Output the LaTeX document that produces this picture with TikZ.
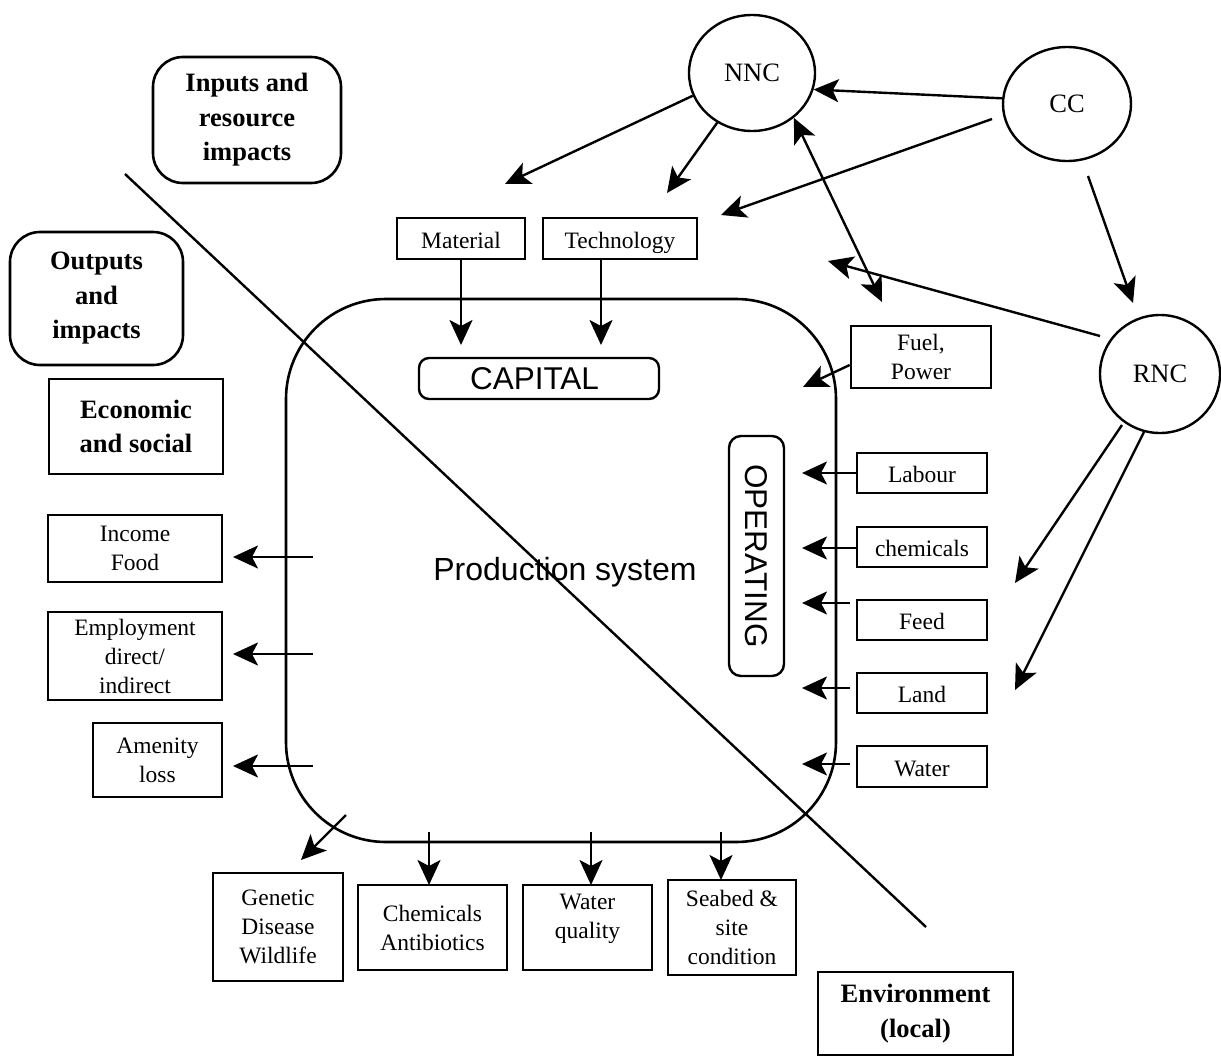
\documentclass[tikz,border=0pt]{standalone}
\usepackage{fontspec}
\setmainfont{Liberation Serif}
\setsansfont{Liberation Sans}
\usetikzlibrary{arrows.meta,shapes.geometric}
\begin{document}
\begin{tikzpicture}[x=1pt,y=-1pt,
  box/.style={draw, line width=2.6pt, inner sep=0pt, align=center, font=\fontsize{23.5}{29}\selectfont},
  one/.style={text height=20pt, text depth=0.4pt},
  bbox/.style={draw, line width=2.6pt, inner sep=0pt, align=center, font=\fontsize{26.5}{34.5}\selectfont\bfseries},
  circ/.style={draw, ellipse, line width=2.4pt, inner sep=0pt, font=\fontsize{26.5}{30}\selectfont},
  sfont/.style={font=\sffamily\fontsize{31.5}{36}\selectfont},
  ln/.style={line width=2.4pt},
  arr/.style={line width=2.4pt, -{Stealth[length=25pt,width=23pt,inset=6pt]}},
  darr/.style={line width=2.4pt, {Stealth[length=25pt,width=23pt,inset=6pt]}-{Stealth[length=25pt,width=23pt,inset=6pt]}}
]
\useasboundingbox (0,0) rectangle (1221,1057);

% circles
\node[circ, minimum width=126pt, minimum height=116pt] (nnc) at (752,73) {NNC};
\node[circ, minimum width=128pt, minimum height=114pt] (cc) at (1067,104) {CC};
\node[circ, minimum width=120pt, minimum height=118pt] (rnc) at (1160,374) {RNC};

% headings
\node[bbox, rounded corners=30pt, minimum width=188pt, minimum height=126pt] (inp) at (247,120) {Inputs and\\resource\\impacts};
\node[bbox, rounded corners=30pt, minimum width=173pt, minimum height=133pt] (outp) at (96.5,298.5) {Outputs\\and\\impacts};
\node[bbox, minimum width=174pt, minimum height=95pt] (econ) at (136,426.5) {Economic\\and social};
\node[bbox, minimum width=195pt, minimum height=83pt] (env) at (915.5,1013.5) {Environment\\(local)};

% production system
\node[draw, line width=2.6pt, rounded corners=100pt, minimum width=550pt, minimum height=543pt] (prod) at (561,570.5) {};
\node[inner sep=0pt, font=\sffamily\fontsize{32}{36}\selectfont] (prodt) at ([xshift=4pt,yshift=-2pt]prod.center) {Production system};
\node[draw, line width=2.4pt, rounded corners=10pt, minimum width=240pt, minimum height=41pt, inner sep=0pt, sfont] (cap) at (539,378.5) {CAPITAL\hspace*{9pt}};
\node[draw, line width=2.4pt, rounded corners=12pt, rotate=-90, minimum width=240pt, minimum height=55pt, inner sep=0pt, sfont] (op) at (756.5,556) {OPERATING};

% capital inputs
\node[box, one, minimum width=128pt, minimum height=41pt] (mat) at (461,238.5) {Material};
\node[box, one, minimum width=154pt, minimum height=41pt] (tech) at (620,238.5) {Technology};
\node[box, minimum width=140pt, minimum height=62pt] (fuel) at (921,357) {Fuel,\\Power};

% operating inputs
\node[box, one, minimum width=130pt, minimum height=40pt] (lab) at (922,473) {Labour};
\node[box, one, minimum width=130pt, minimum height=40pt] (chem) at (922,547) {chemicals};
\node[box, one, minimum width=130pt, minimum height=40pt] (feed) at (922,620) {Feed};
\node[box, one, minimum width=130pt, minimum height=40pt] (land) at (922,693) {Land};
\node[box, one, minimum width=130pt, minimum height=41pt] (water) at (922,766.5) {Water};

% economic outputs
\node[box, minimum width=174pt, minimum height=67pt] (inc) at (135,548.5) {Income\\Food};
\node[box, minimum width=174pt, minimum height=88pt] (emp) at (135,656) {Employment\\direct/\\indirect};
\node[box, minimum width=129pt, minimum height=74pt] (amen) at (157.5,760) {Amenity\\loss};

% environmental outputs
\node[box, minimum width=130pt, minimum height=108pt] (gen) at (278,927) {Genetic\\Disease\\Wildlife};
\node[box, minimum width=149pt, minimum height=85pt] (chab) at (432.5,927.5) {Chemicals\\Antibiotics};
\node[box, minimum width=129pt, minimum height=85pt] (wq) at (587.5,927.5) {};
\node[align=center, inner sep=0pt, font=\fontsize{23.5}{29}\selectfont] (wqt) at ([yshift=9pt]wq.center) {Water\\quality};
\node[box, minimum width=128pt, minimum height=95pt] (sea) at (732,927.5) {Seabed \&\\site\\condition};

% dividing line
\coordinate (d1) at (125,174);
\coordinate (d2) at (926,927);
\draw[ln] (d1) -- (d2);

% connectors at the top
\coordinate (mtip) at (505,184);
\coordinate (ttip) at (667,193);
\coordinate (ctail) at (992,119);
\coordinate (ctip) at (721,215);
\coordinate (ftip) at (882,302);
\coordinate (rtail) at (1100,336);
\coordinate (rtip) at (828,261);
\coordinate (crtail) at (1088,176);
\coordinate (crtip) at (1133,303);
\coordinate (r1tail) at (1122,425);
\coordinate (r1tip) at (1015,583);
\coordinate (r2tail) at (1144,432);
\coordinate (r2tip) at (1015,690);

\draw[arr] (cc.175) -- (nnc.-15);
\draw[arr] (nnc.201) -- (mtip);
\draw[arr] (nnc.235) -- (ttip);
\draw[arr] (ctail) -- (ctip);
\draw[darr] (nnc.-47) -- (ftip);
\draw[arr] (rtail) -- (rtip);
\draw[arr] (crtail) -- (crtip);
\draw[arr] (r1tail) -- (r1tip);
\draw[arr] (r2tail) -- (r2tip);

% into capital
\coordinate (cm) at (461,345);
\coordinate (ct) at (601,345);
\draw[arr] (mat.south -| cm) -- (cm);
\draw[arr] (tech.south -| ct) -- (ct);
\coordinate (fp) at (803,387);
\draw[arr] ([yshift=-8pt]fuel.west) -- (fp);

% into operating
\coordinate (labtip) at (802,473);
\coordinate (chemtip) at (802,548);
\coordinate (feedtail) at (850,603);
\coordinate (feedtip) at (802,603);
\coordinate (landtail) at (850,688);
\coordinate (landtip) at (802,688);
\coordinate (wattail) at (850,764);
\coordinate (wattip) at (802,764);
\draw[arr] (lab.west |- labtip) -- (labtip);
\draw[arr] (chem.west |- chemtip) -- (chemtip);
\draw[arr] (feedtail) -- (feedtip);
\draw[arr] (landtail) -- (landtip);
\draw[arr] (wattail) -- (wattip);

% economic outputs
\coordinate (inctail) at (313,557);
\coordinate (inctip) at (233,557);
\coordinate (emptail) at (313,654);
\coordinate (emptip) at (233,654);
\coordinate (amtail) at (313,766);
\coordinate (amtip) at (233,766);
\draw[arr] (inctail) -- (inctip);
\draw[arr] (emptail) -- (emptip);
\draw[arr] (amtail) -- (amtip);

% environmental outputs
\coordinate (gtail) at (346,815);
\coordinate (gtip) at (301,860);
\coordinate (catail) at (429,832);
\coordinate (catip) at (429,885);
\coordinate (wqtail) at (591,832);
\coordinate (wqtip) at (591,885);
\coordinate (setail) at (721,832);
\coordinate (setip) at (721,880);
\draw[arr] (gtail) -- (gtip);
\draw[arr] (catail) -- (catip);
\draw[arr] (wqtail) -- (wqtip);
\draw[arr] (setail) -- (setip);
\end{tikzpicture}
\end{document}
